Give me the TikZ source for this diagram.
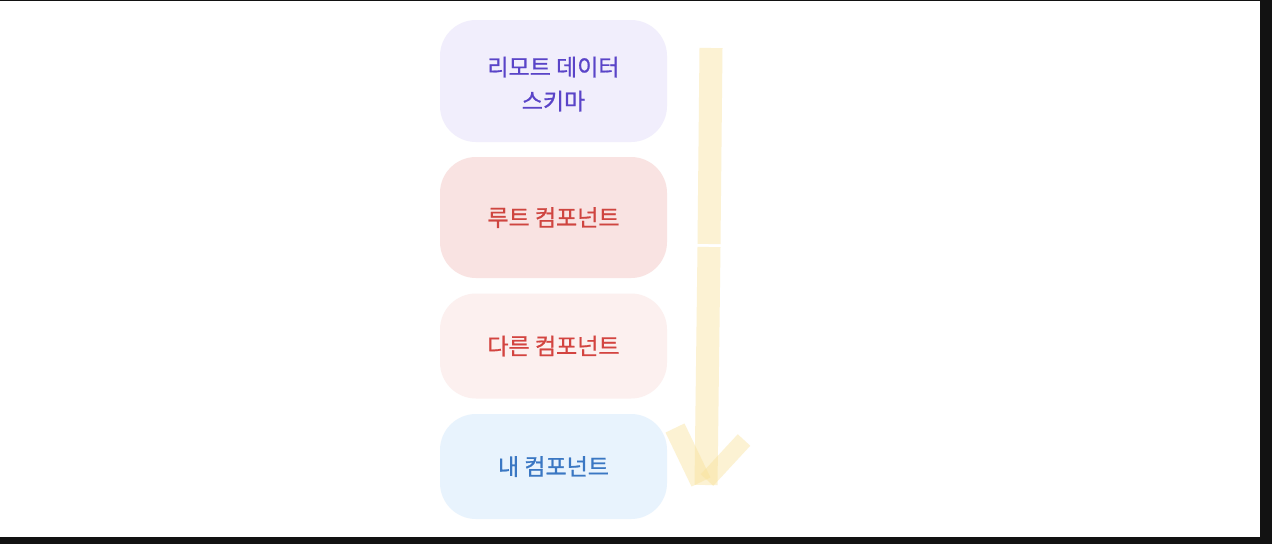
\documentclass[tikz,border=0pt]{standalone}
\usepackage{fontspec}
\newfontfamily\kr{Noto Sans CJK KR}[FakeBold=0.8]
\definecolor{frame}{HTML}{121212}
\definecolor{fillA}{HTML}{F1EEFC}
\definecolor{textA}{HTML}{5A44C8}
\definecolor{fillB}{HTML}{F9E3E2}
\definecolor{textB}{HTML}{CF4540}
\definecolor{fillC}{HTML}{FCF0EF}
\definecolor{textC}{HTML}{D34440}
\definecolor{fillD}{HTML}{E8F3FD}
\definecolor{textD}{HTML}{3A77C3}
\definecolor{brush}{HTML}{F8E197}
\tikzset{
  cardfont/.style={font=\kr\fontsize{23}{34}\selectfont},
  card/.style={rounded corners=36pt, minimum width=227pt, inner sep=0pt, align=center, cardfont},
  stroke/.style={draw=brush, line width=23pt, opacity=0.42, line cap=butt},
}
\begin{document}
\begin{tikzpicture}[x=1pt,y=-1pt]
\useasboundingbox (0,0) rectangle (1272,544);
\fill[frame] (0,0) rectangle (1272,544);
\fill[white] (0,1) rectangle (1260,537);
\node[card, fill=fillA, text=textA, minimum height=122pt] (remote) at (553.5,81) {};
\node[cardfont, text=textA, align=center] (remotetext) at (remote.center) [yshift=-3pt] {리모트 데이터\\스키마};
\node[card, fill=fillB, text=textB, minimum height=121pt] (root) at (553.5,217.5) {루트 컴포넌트};
\node[card, fill=fillC, text=textC, minimum height=105pt] (other) at (553.5,346) {다른 컴포넌트};
\node[card, fill=fillD, text=textD, minimum height=105pt] (mine) at (553.5,466.5) {내 컴포넌트};
\coordinate (s1) at (711,48);
\coordinate (s2) at (709,244);
\coordinate (s3) at (709,247);
\coordinate (tip) at (706,485);
\coordinate (wl) at (675,428);
\coordinate (wr) at (744,440);
\coordinate (tl) at (701,482);
\coordinate (tr) at (707,480);
\draw[stroke] (s1) -- (s2);
\draw[stroke] (s3) -- (tip);
\draw[stroke, line width=21pt] (wl) -- (tl);
\draw[stroke, line width=17pt] (wr) -- (tr);
\end{tikzpicture}
\end{document}
